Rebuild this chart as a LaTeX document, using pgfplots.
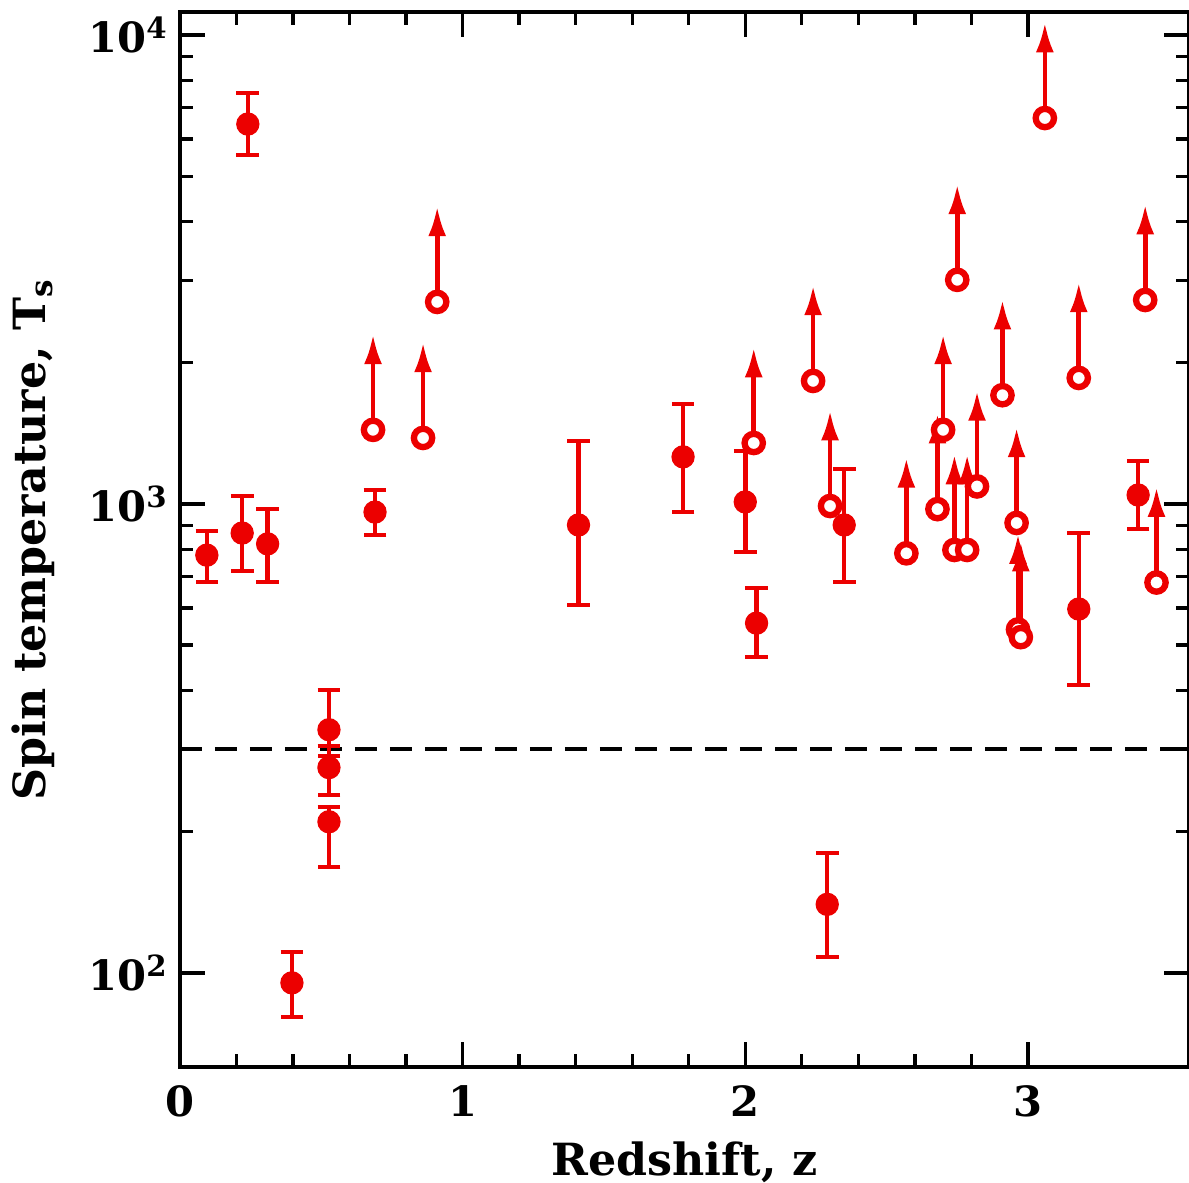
\documentclass[border=0pt]{standalone}
\usepackage{fontspec}
\setmainfont{DejaVu Serif}
\usepackage{pgfplots}
\pgfplotsset{compat=1.18}
\usepackage{pgfplotstable}
\usetikzlibrary{arrows.meta}

\definecolor{ptred}{RGB}{236,0,0}

% detections: redshift, T_s, upper and lower error
\pgfplotstableread{
z     T     ep    em
0.095 778   98    96
0.22  867   173   147
0.31  822   153   140
0.24  6460  1060  915
0.396 95.2  15.8  14.7
0.527 330   71    40
0.527 274   31    34
0.527 210   16    42
0.69  961   110   103
1.41  902   460   292
1.78  1260  374   298
2.00  1010  287   219
2.04  557   105   85
2.29  140   40    32
2.35  902   285   220
3.18  597   270   186
3.39  1045  190   160
}\detections

% lower limits (arrows upward)
\pgfplotstableread{
z     T
0.683 1439
0.86  1383
0.91  2697
2.03  1349
2.24  1830
2.30  990
2.57  785
2.68  975
2.70  1439
2.74  798
2.785 798
2.82  1090
2.91  1706
2.75  3006
3.06  6654
3.18  1857
3.415 2723
2.96  911
2.965 540
2.975 520
3.455 680
}\limits

\begin{document}
\begin{tikzpicture}
\begin{axis}[
  at={(0,0)}, anchor=south west,
  width=302.7pt, height=316.5pt, scale only axis,
  xmin=0, xmax=3.57,
  ymode=log, ymin=63, ymax=11200,
  font=\bfseries\fontsize{12.5}{14}\selectfont,
  axis line style={line width=1.3pt},
  tick align=inside,
  major tick length=7.5pt, minor tick length=3.8pt,
  every tick/.style={black, line width=1pt},
  xtick={0,1,2,3}, xticklabels={0,1,2,3},
  minor x tick num=4,
  ytick={100,1000,10000},
  yticklabels={10\textsuperscript{2},10\textsuperscript{3},10\textsuperscript{4}},
  xlabel={Redshift, z},
  ylabel={Spin temperature, T\textsubscript{s}},
  label style={font=\bfseries\fontsize{13.3}{15}\selectfont},
  xlabel style={at={(axis description cs:0.5,-0.1024)}, anchor=base},
  ylabel style={at={(axis description cs:-0.1457,0.5)}, anchor=center},
  xticklabel style={yshift=-2pt},
  clip=false,
]
\addplot[black, line width=1.2pt, dash pattern=on 6.6pt off 3.9pt]
  coordinates {(0,300) (3.57,300)};

\addplot[only marks, mark=*, mark size=3.3pt, ptred,
  mark options={fill=ptred, draw=ptred},
  error bars/.cd, y dir=both, y explicit,
  error bar style={line width=1.35pt, ptred},
  error mark options={rotate=90, mark size=3.4pt, line width=1.25pt, ptred}]
  table[x=z, y=T, y error plus=ep, y error minus=em] {\detections};

\addplot[only marks, mark=*, mark size=2.75pt, ptred,
  mark options={fill=white, draw=ptred, line width=1.9pt},
  error bars/.cd, y dir=plus, y fixed relative=0.6,
  error mark=none,
  error bar style={line width=1.4pt, ptred, -{Latex[length=9pt,width=5.4pt]}}]
  table[x=z, y=T] {\limits};
\end{axis}
\pgfresetboundingbox
\path[use as bounding box] (-54pt,-34.8pt) rectangle (302.7pt,320.1pt);
\end{tikzpicture}
\end{document}
